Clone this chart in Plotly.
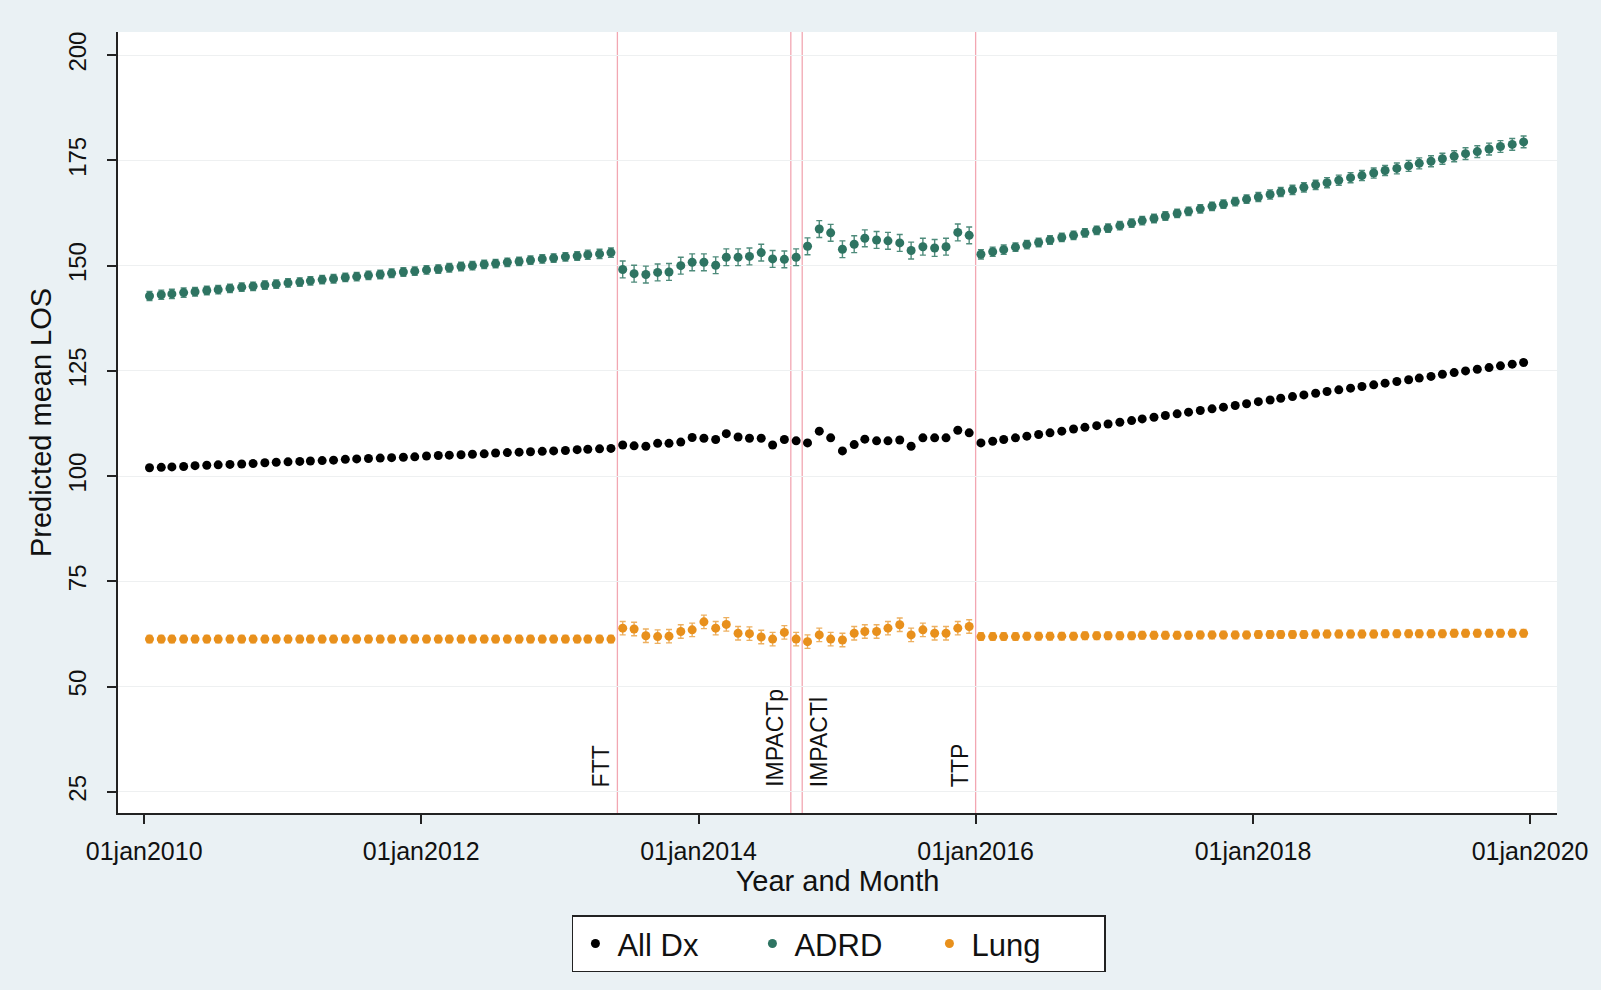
import plotly.graph_objects as go

# ---------------- data ----------------
# monthly observations Jan 2010 .. Dec 2019 (plotted mid-month)
months = [f"{y}-{m:02d}-15" for y in range(2010, 2020) for m in range(1, 13)]

all_dx = [
    # Jan2010 - May2013
    102.0, 102.1, 102.2, 102.3, 102.5, 102.6, 102.7, 102.8, 102.9, 103.0,
    103.2, 103.3, 103.4, 103.5, 103.6, 103.7, 103.8, 104.0, 104.1, 104.2,
    104.3, 104.4, 104.5, 104.6, 104.8, 104.9, 105.0, 105.1, 105.2, 105.3,
    105.5, 105.6, 105.7, 105.8, 105.9, 106.0, 106.1, 106.3, 106.4, 106.5,
    106.6,
    # Jun2013 - Dec2015
    107.4, 107.2, 107.1, 107.8, 107.8, 108.1, 109.2, 109.0, 108.7, 110.1,
    109.3, 109.0, 109.0, 107.4, 108.7, 108.4, 107.9, 110.7, 109.1, 106.0,
    107.5, 108.8, 108.4, 108.4, 108.6, 107.1, 109.1, 109.1, 109.1, 110.9,
    110.3,
    # Jan2016 - Dec2019
    107.9, 108.3, 108.7, 109.1, 109.5, 109.9, 110.3, 110.7, 111.2, 111.6,
    112.0, 112.4, 112.8, 113.2, 113.6, 114.0, 114.4, 114.8, 115.2, 115.6,
    116.0, 116.4, 116.8, 117.2, 117.7, 118.1, 118.5, 118.9, 119.3, 119.7,
    120.1, 120.5, 120.9, 121.3, 121.7, 122.1, 122.5, 122.9, 123.3, 123.7,
    124.2, 124.6, 125.0, 125.4, 125.8, 126.2, 126.6, 127.0,
]

adrd = [
    142.8, 143.1, 143.3, 143.6, 143.8, 144.1, 144.3, 144.6, 144.9, 145.1,
    145.4, 145.6, 145.9, 146.1, 146.4, 146.7, 146.9, 147.2, 147.4, 147.7,
    147.9, 148.2, 148.5, 148.7, 149.0, 149.2, 149.5, 149.8, 150.0, 150.3,
    150.5, 150.8, 151.0, 151.3, 151.6, 151.8, 152.1, 152.3, 152.6, 152.8,
    153.1,
    149.1, 148.1, 147.9, 148.4, 148.5, 150.0, 150.8, 150.8, 150.1, 152.0,
    152.0, 152.2, 153.1, 151.6, 151.5, 152.0, 154.6, 158.7, 157.8, 153.9,
    155.1, 156.5, 156.1, 155.9, 155.4, 153.6, 154.5, 154.2, 154.5, 157.9,
    157.2,
    152.7, 153.3, 153.8, 154.4, 155.0, 155.5, 156.1, 156.7, 157.2, 157.8,
    158.4, 158.9, 159.5, 160.1, 160.7, 161.2, 161.8, 162.4, 162.9, 163.5,
    164.1, 164.6, 165.2, 165.8, 166.3, 166.9, 167.5, 168.0, 168.6, 169.2,
    169.7, 170.3, 170.9, 171.4, 172.0, 172.6, 173.1, 173.7, 174.3, 174.8,
    175.4, 176.0, 176.6, 177.1, 177.7, 178.3, 178.8, 179.4,
]

adrd_ci = [
    1.1, 1.1, 1.1, 1.1, 1.0, 1.0, 1.0, 1.0, 1.0, 1.0,
    1.0, 1.0, 1.0, 1.0, 1.0, 1.0, 1.0, 1.0, 1.0, 1.0,
    1.0, 1.0, 1.0, 1.0, 1.0, 1.0, 1.0, 1.0, 1.0, 1.0,
    1.0, 1.0, 1.0, 1.0, 1.0, 1.0, 1.0, 1.0, 1.1, 1.1,
    1.1,
    2.0, 2.0, 2.0, 2.0, 2.0, 2.0, 2.0, 2.0, 2.0, 2.0,
    2.0, 2.0, 2.0, 2.0, 2.0, 2.0, 2.0, 2.0, 2.0, 2.0,
    2.0, 2.0, 2.0, 2.0, 2.0, 2.0, 2.0, 2.0, 2.0, 2.0,
    2.0,
    1.1, 1.1, 1.1, 1.0, 1.0, 1.0, 1.0, 1.0, 1.0, 1.0,
    1.0, 1.0, 1.0, 1.0, 1.0, 1.0, 1.0, 1.0, 1.0, 1.0,
    1.0, 1.0, 1.0, 1.0, 1.1, 1.1, 1.1, 1.1, 1.1, 1.1,
    1.2, 1.2, 1.2, 1.2, 1.2, 1.2, 1.3, 1.3, 1.3, 1.3,
    1.3, 1.3, 1.4, 1.4, 1.4, 1.4, 1.4, 1.4,
]

lung = [
    61.3, 61.3, 61.3, 61.3, 61.3, 61.3, 61.3, 61.3, 61.3, 61.3,
    61.3, 61.3, 61.3, 61.3, 61.3, 61.3, 61.3, 61.3, 61.3, 61.3,
    61.3, 61.3, 61.3, 61.3, 61.3, 61.3, 61.3, 61.3, 61.3, 61.3,
    61.3, 61.3, 61.3, 61.3, 61.3, 61.3, 61.3, 61.3, 61.3, 61.3,
    61.3,
    63.9, 63.7, 62.1, 61.9, 62.0, 63.1, 63.5, 65.4, 63.9, 64.8,
    62.7, 62.6, 61.8, 61.3, 62.9, 61.3, 60.7, 62.3, 61.3, 61.1,
    62.7, 63.1, 63.1, 63.9, 64.7, 62.3, 63.5, 62.7, 62.7, 63.9,
    64.3,
    61.9, 61.9, 61.9, 61.9, 62.0, 62.0, 62.0, 62.0, 62.0, 62.1,
    62.1, 62.1, 62.1, 62.1, 62.2, 62.2, 62.2, 62.2, 62.2, 62.3,
    62.3, 62.3, 62.3, 62.3, 62.4, 62.4, 62.4, 62.4, 62.4, 62.5,
    62.5, 62.5, 62.5, 62.5, 62.5, 62.6, 62.6, 62.6, 62.6, 62.6,
    62.6, 62.7, 62.7, 62.7, 62.7, 62.7, 62.7, 62.7,
]

lung_ci = [
    0.9, 0.9, 0.9, 0.9, 0.9, 0.9, 0.9, 0.9, 0.9, 0.9,
    0.9, 0.9, 0.9, 0.9, 0.9, 0.9, 0.9, 0.9, 0.9, 0.9,
    0.9, 0.9, 0.9, 0.9, 0.9, 0.9, 0.9, 0.9, 0.9, 0.9,
    0.9, 0.9, 0.9, 0.9, 0.9, 0.9, 0.9, 0.9, 0.9, 0.9,
    0.9,
    1.6, 1.6, 1.6, 1.6, 1.6, 1.6, 1.6, 1.6, 1.6, 1.6,
    1.6, 1.6, 1.6, 1.6, 1.6, 1.6, 1.6, 1.6, 1.6, 1.6,
    1.6, 1.6, 1.6, 1.6, 1.6, 1.6, 1.6, 1.6, 1.6, 1.6,
    1.6,
    0.9, 0.9, 0.9, 0.9, 0.9, 0.9, 0.9, 0.9, 0.9, 0.9,
    0.9, 0.9, 0.9, 0.9, 0.9, 0.9, 0.9, 0.9, 0.9, 0.9,
    0.9, 0.9, 0.9, 0.9, 0.9, 0.9, 0.9, 0.9, 0.9, 0.9,
    0.9, 0.9, 0.9, 0.9, 0.9, 0.9, 0.9, 0.9, 0.9, 0.9,
    0.9, 0.9, 0.9, 0.9, 0.9, 0.9, 0.9, 0.9,
]

event_dates = ["2013-06-01", "2014-09-01", "2014-10-01", "2016-01-01"]
event_labels = ["FTT", "IMPACTp", "IMPACTl", "TTP"]
event_label_side = ["left", "left", "right", "left"]

x_tick_vals = ["2010-01-01", "2012-01-01", "2014-01-01", "2016-01-01", "2018-01-01", "2020-01-01"]
x_tick_text = ["01jan2010", "01jan2012", "01jan2014", "01jan2016", "01jan2018", "01jan2020"]
y_tick_vals = [25, 50, 75, 100, 125, 150, 175, 200]

# ---------------- styles ----------------
FONT = "Liberation Sans, Arial, sans-serif"
BG = "#EAF1F4"
COL_ALL = "#000000"
COL_ADRD = "#2E7462"
COL_LUNG = "#E8901C"
COL_EVENT = "#F2A7B2"

fig = go.Figure()

fig.add_trace(go.Scatter(
    x=months, y=all_dx, mode="markers", name="All Dx",
    marker=dict(color=COL_ALL, size=9),
))
fig.add_trace(go.Scatter(
    x=months, y=adrd, mode="markers", name="ADRD",
    marker=dict(color=COL_ADRD, size=9),
    error_y=dict(type="data", array=adrd_ci, visible=True,
                 color="#4E8B7B", thickness=1.4, width=3),
))
fig.add_trace(go.Scatter(
    x=months, y=lung, mode="markers", name="Lung",
    marker=dict(color=COL_LUNG, size=9),
    error_y=dict(type="data", array=lung_ci, visible=True,
                 color="#EDB060", thickness=1.4, width=3),
))

for d, lab, side in zip(event_dates, event_labels, event_label_side):
    fig.add_shape(type="line", xref="x", yref="paper", x0=d, x1=d, y0=0, y1=1,
                  line=dict(color=COL_EVENT, width=1.3), layer="below")
    fig.add_annotation(x=d, y=25.7, xref="x", yref="y", text=lab, textangle=-90,
                       showarrow=False,
                       xanchor="right" if side == "left" else "left",
                       yanchor="bottom",
                       xshift=-1 if side == "left" else 2,
                       font=dict(family=FONT, size=23, color="#111111"))

fig.update_layout(
    width=1601, height=990,
    paper_bgcolor=BG, plot_bgcolor="white",
    margin=dict(l=118, r=44, t=32, b=177),
    font=dict(family=FONT, color="#111111"),
    showlegend=True,
    legend=dict(
        orientation="h", x=0.501, xanchor="center", y=-0.131, yanchor="top",
        bgcolor="white", bordercolor="#222222", borderwidth=1.5,
        font=dict(family=FONT, size=31, color="#111111"),
        entrywidth=128, entrywidthmode="pixels", itemwidth=34,
    ),
    xaxis=dict(
        type="date", range=["2009-10-24", "2020-03-12"],
        tickvals=x_tick_vals, ticktext=x_tick_text,
        tickfont=dict(family=FONT, size=25, color="#111111"),
        ticks="outside", ticklen=9, tickwidth=1.5, tickcolor="#222222",
        showline=True, linecolor="#222222", linewidth=1.5,
        showgrid=False, zeroline=False, ticklabelstandoff=6,
        title=dict(text="Year and Month", font=dict(family=FONT, size=29, color="#111111"),
                   standoff=2),
    ),
    yaxis=dict(
        range=[20, 205.5], tickvals=y_tick_vals,
        tickfont=dict(family=FONT, size=24, color="#111111"), tickangle=-90,
        ticks="outside", ticklen=9, tickwidth=1.5, tickcolor="#222222",
        showline=True, linecolor="#222222", linewidth=1.5,
        showgrid=True, gridcolor="#EEF0F1", gridwidth=1.2, zeroline=False,
        ticklabelstandoff=12,
        title=dict(text="Predicted mean LOS", font=dict(family=FONT, size=29, color="#111111"),
                   standoff=4),
    ),
)

fig.write_html("out.html", config={"displayModeBar": False},
               post_script="document.body.style.margin='0px';")
